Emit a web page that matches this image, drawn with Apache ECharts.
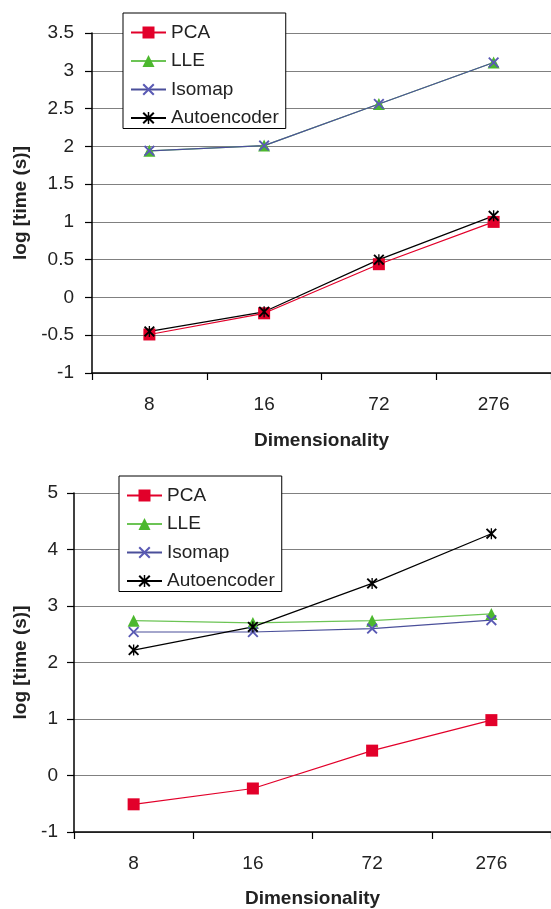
<!DOCTYPE html>
<html>
<head>
<meta charset="utf-8">
<script src="https://cdn.jsdelivr.net/npm/echarts@6/dist/echarts.min.js"></script>
<style>html,body{margin:0;padding:0;background:#fff;}#c{width:551px;height:909px;}</style>
</head>
<body>
<div id="c"></div>
<script>
var categories = ['8', '16', '72', '276'];
var seriesNames = ['PCA', 'LLE', 'Isomap', 'Autoencoder'];
// Top chart values (log time)
var topPCA = [-0.49, -0.21, 0.44, 1.00];
var topLLE = [1.94, 2.01, 2.56, 3.11];
var topIsomap = [1.94, 2.01, 2.56, 3.11];
var topAuto = [-0.45, -0.19, 0.50, 1.08];
// Bottom chart values (log time)
var botPCA = [-0.51, -0.23, 0.44, 0.98];
var botLLE = [2.74, 2.70, 2.74, 2.86];
var botIsomap = [2.54, 2.54, 2.60, 2.75];
var botAuto = [2.22, 2.63, 3.40, 4.28];
var topTicks = {min: -1, max: 3.5, interval: 0.5};
var botTicks = {min: -1, max: 5, interval: 1};
var xTitle = 'Dimensionality';
var yTitle = 'log [time (s)]';

var FONT = '"Liberation Sans", Arial, sans-serif';
var crossPath = 'path://M0,0.12 L0.12,0 L0.5,0.38 L0.88,0 L1,0.12 L0.62,0.5 L1,0.88 L0.88,1 L0.5,0.62 L0.12,1 L0,0.88 L0.38,0.5 Z';
var starPath = 'path://M0,0.12 L0.12,0 L0.5,0.38 L0.88,0 L1,0.12 L0.62,0.5 L1,0.88 L0.88,1 L0.5,0.62 L0.12,1 L0,0.88 L0.38,0.5 Z M0.44,0 L0.56,0 L0.56,1 L0.44,1 Z';

var styles = {
  'PCA': {color: '#e2002a', line: '#e2002a', symbol: 'rect', size: 12},
  'LLE': {color: '#4cb82e', line: '#6cc455', symbol: 'triangle', size: 12},
  'Isomap': {color: '#5a5ab4', line: '#4a4f9a', symbol: crossPath, size: 11},
  'Autoencoder': {color: '#000000', line: '#000000', symbol: starPath, size: 11}
};

function mkSeries(name, data, idx) {
  var s = styles[name];
  return {
    name: name, type: 'line', data: data,
    xAxisIndex: idx, yAxisIndex: idx,
    symbol: s.symbol, symbolSize: s.size,
    itemStyle: {color: s.color},
    lineStyle: {color: s.line, width: 1.2},
    emphasis: {disabled: true},
    animation: false
  };
}

function mkX(gridIdx, nameGap, labelMargin) {
  return {
    type: 'category', gridIndex: gridIdx, data: categories, boundaryGap: true,
    axisLine: {onZero: false, lineStyle: {color: '#000', width: 1.5}},
    axisTick: {show: true, length: 7, lineStyle: {color: '#000', width: 1.2}},
    axisLabel: {color: '#222', fontSize: 19, fontFamily: FONT, margin: labelMargin},
    name: xTitle, nameLocation: 'middle', nameGap: nameGap,
    nameTextStyle: {color: '#222', fontSize: 19, fontWeight: 'bold', fontFamily: FONT},
    splitLine: {show: false}
  };
}

function mkY(gridIdx, ticks, nameGap, labelMargin) {
  return {
    type: 'value', gridIndex: gridIdx, min: ticks.min, max: ticks.max, interval: ticks.interval,
    axisLine: {show: true, onZero: false, lineStyle: {color: '#000', width: 1.5}},
    axisTick: {show: true, length: 7, lineStyle: {color: '#000', width: 1.2}},
    axisLabel: {color: '#222', fontSize: 19, fontFamily: FONT, margin: labelMargin},
    splitLine: {show: true, lineStyle: {color: '#808080', width: 1.2}},
    name: yTitle, nameLocation: 'middle', nameGap: nameGap, nameRotate: 90,
    nameTextStyle: {color: '#222', fontSize: 19, fontWeight: 'bold', fontFamily: FONT}
  };
}

function mkLegend(left, top) {
  return {
    orient: 'vertical', left: left, top: top, data: seriesNames,
    itemWidth: 35, itemHeight: 15, itemGap: 9.5,
    padding: [10, 7, 1, 7],
    borderColor: '#000', borderWidth: 1, backgroundColor: '#fff',
    textStyle: {color: '#222', fontSize: 19, fontFamily: FONT, lineHeight: 19},
    selectedMode: false
  };
}

var chart = echarts.init(document.getElementById('c'), null, {renderer: 'canvas'});
chart.setOption({
  animation: false,
  backgroundColor: '#fff',
  grid: [
    {left: 92, top: 33, width: 459, height: 340},
    {left: 74, top: 493, width: 477, height: 340}
  ],
  xAxis: [mkX(0, 58, 22), mkX(1, 57, 22)],
  yAxis: [mkY(0, topTicks, 57, 18), mkY(1, botTicks, 39, 16)],
  legend: [mkLegend(123, 13), mkLegend(119, 476)],
  series: [
    mkSeries('PCA', topPCA, 0), mkSeries('LLE', topLLE, 0),
    mkSeries('Isomap', topIsomap, 0), mkSeries('Autoencoder', topAuto, 0),
    mkSeries('PCA', botPCA, 1), mkSeries('LLE', botLLE, 1),
    mkSeries('Isomap', botIsomap, 1), mkSeries('Autoencoder', botAuto, 1)
  ]
});
</script>
</body>
</html>
